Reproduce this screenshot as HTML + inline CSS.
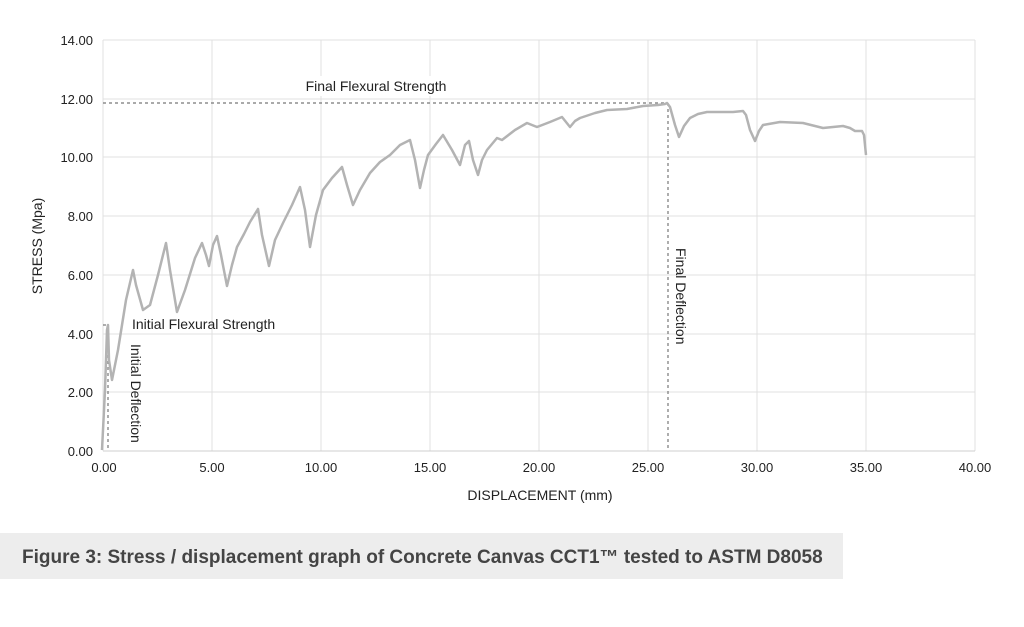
<!DOCTYPE html>
<html><head><meta charset="utf-8"><style>
body{margin:0;width:1024px;height:622px;background:#fff;overflow:hidden;font-family:"Liberation Sans",sans-serif}
</style></head><body>
<svg width="1024" height="622" xmlns="http://www.w3.org/2000/svg" font-family="Liberation Sans, sans-serif">
<g stroke="#e0e0e0" stroke-width="1">
<line x1="103" y1="40" x2="975" y2="40"/><line x1="103" y1="99" x2="975" y2="99"/><line x1="103" y1="157" x2="975" y2="157"/><line x1="103" y1="216" x2="975" y2="216"/><line x1="103" y1="275" x2="975" y2="275"/><line x1="103" y1="334" x2="975" y2="334"/><line x1="103" y1="392" x2="975" y2="392"/>
<line x1="212" y1="40" x2="212" y2="451"/><line x1="321" y1="40" x2="321" y2="451"/><line x1="430" y1="40" x2="430" y2="451"/><line x1="539" y1="40" x2="539" y2="451"/><line x1="648" y1="40" x2="648" y2="451"/><line x1="757" y1="40" x2="757" y2="451"/><line x1="866" y1="40" x2="866" y2="451"/><line x1="975" y1="40" x2="975" y2="451"/>
<line x1="103" y1="40" x2="103" y2="451"/>
</g>
<line x1="103" y1="451" x2="975" y2="451" stroke="#cfcfcf"/>
<rect x="268" y="76" width="210" height="20" fill="#fff"/>
<g stroke="#777" stroke-width="1.2" stroke-dasharray="3,3" fill="none">
<line x1="103" y1="103" x2="667" y2="103"/><line x1="668" y1="103" x2="668" y2="451"/>
<line x1="103" y1="325" x2="109" y2="325"/><line x1="108" y1="325" x2="108" y2="451"/>
</g>
<polyline fill="none" stroke="#b3b3b3" stroke-width="2.5" stroke-linejoin="round" points="102,450 105,390 107,330 108,325 109,360 112,380 118,350 126,300 133,270 136,285 143,310 150,305 158,275 166,243 170,270 177,312 185,290 195,258 202,243 206,255 209,266 213,245 217,236 221,255 227,286 232,265 237,247 244,234 250,222 258,209 262,235 269,266 275,240 283,223 292,205 300,187 305,210 310,247 316,215 323,190 332,178 342,167 347,185 353,205 360,190 370,173 380,162 390,155 400,145 410,140 415,160 420,188 424,170 428,155 436,144 443,135 452,150 460,165 465,145 469,141 473,160 478,175 482,160 487,150 497,138 502,140 515,130 527,123 537,127 550,122 562,117 566,122 570,127 575,121 580,118 595,113 607,110 627,109 643,106 658,105 665,104 667,103 670,107 675,125 679,137 684,126 690,118 698,114 707,112 733,112 743,111 746,115 750,130 755,141 759,131 763,125 780,122 803,123 815,126 823,128 843,126 850,128 855,131 862,131 864,135 866,155"/>
<g font-size="13" fill="#222" text-anchor="end">
<text x="93" y="45">14.00</text><text x="93" y="104">12.00</text><text x="93" y="162">10.00</text><text x="93" y="221">8.00</text><text x="93" y="280">6.00</text><text x="93" y="339">4.00</text><text x="93" y="397">2.00</text><text x="93" y="456">0.00</text>
</g>
<g font-size="13" fill="#222" text-anchor="middle">
<text x="104" y="472">0.00</text><text x="212" y="472">5.00</text><text x="321" y="472">10.00</text><text x="430" y="472">15.00</text><text x="539" y="472">20.00</text><text x="648" y="472">25.00</text><text x="757" y="472">30.00</text><text x="866" y="472">35.00</text><text x="975" y="472">40.00</text>
</g>
<g font-size="14" fill="#222" text-anchor="middle">
<text x="540" y="500">DISPLACEMENT (mm)</text>
<text x="376" y="91">Final Flexural Strength</text>
<text transform="translate(42,246) rotate(-90)">STRESS (Mpa)</text>
</g>
<text x="132" y="329" font-size="14" fill="#222">Initial Flexural Strength</text>
<text transform="translate(131,344) rotate(90)" font-size="14" fill="#222">Initial Deflection</text>
<text transform="translate(676,248) rotate(90)" font-size="14" fill="#222">Final Deflection</text>
<rect x="0" y="533" width="843" height="46" fill="#ededed"/>
<text x="22" y="563" font-size="19" font-weight="bold" fill="#444">Figure 3: Stress / displacement graph of Concrete Canvas CCT1™ tested to ASTM D8058</text>
</svg>
</body></html>
